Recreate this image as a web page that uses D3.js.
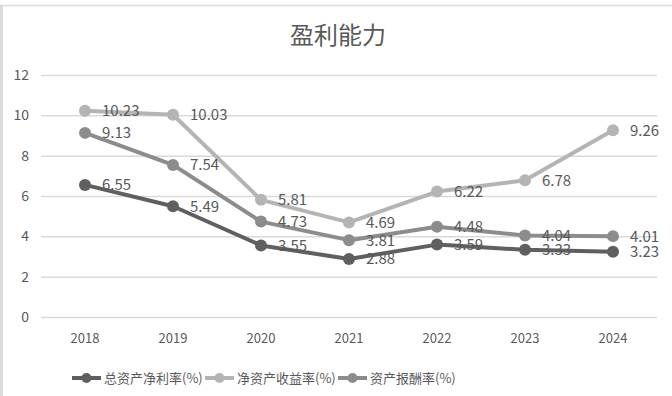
<!DOCTYPE html>
<html>
<head>
<meta charset="utf-8">
<script src="https://cdn.jsdelivr.net/npm/d3@7"></script>
<style>
  html, body { margin: 0; padding: 0; background: #fff; }
  svg { display: block; }
</style>
</head>
<body>
<div id="chart"></div>
<script>
// Data
const years = ['2018', '2019', '2020', '2021', '2022', '2023', '2024'];
const seriesNames = ['总资产净利率(%)', '净资产收益率(%)', '资产报酬率(%)'];
const roa = [6.55, 5.49, 3.55, 2.88, 3.59, 3.33, 3.23];
const roe = [10.23, 10.03, 5.81, 4.69, 6.22, 6.78, 9.26];
const returnOnAssets = [9.13, 7.54, 4.73, 3.81, 4.48, 4.04, 4.01];
const yTicks = [0, 2, 4, 6, 8, 10, 12];
const chartTitle = '盈利能力';

const width = 672;
const height = 396;
const layout = {
  plot: { left: 41, right: 657, top: 75, bottom: 317 },
};
const colors = ['#5f5f5f', '#b4b4b4', '#8c8c8c'];
const textColor = '#595959';
const gridColor = '#d9d9d9';
const font = '"Noto Sans CJK SC", "Noto Sans", sans-serif';

const series = [roa, roe, returnOnAssets].map((values, i) => ({
  name: seriesNames[i],
  color: colors[i],
  values: values.map((v, j) => ({ year: years[j], value: v })),
}));

const svg = d3.select('#chart')
  .append('svg')
  .attr('width', width)
  .attr('height', height)
  .style('font-family', font);

/* Frame */
svg.append('line')
  .attr('x1', 0).attr('x2', width).attr('y1', 5.5).attr('y2', 5.5)
  .attr('stroke', '#dcdcdc').attr('stroke-width', 1.5);
svg.append('rect')
  .attr('x', 0).attr('y', 5).attr('width', 3).attr('height', height - 5)
  .attr('fill', '#dcdcdc');

const x = d3.scaleBand()
  .domain(years)
  .range([layout.plot.left, layout.plot.right]);
const y = d3.scaleLinear()
  .domain([0, 12])
  .range([layout.plot.bottom, layout.plot.top]);
const cx = (d) => x(d) + x.bandwidth() / 2;

/* Title */
svg.append('text')
  .attr('x', 338)
  .attr('y', 44)
  .attr('text-anchor', 'middle')
  .attr('fill', textColor)
  .attr('font-size', 24)
  .text(chartTitle);

/* Grid */
svg.append('g')
  .attr('transform', `translate(${layout.plot.left},0)`)
  .call(d3.axisLeft(y).tickValues(yTicks).tickSize(-(layout.plot.right - layout.plot.left)).tickFormat(''))
  .call((g) => g.select('.domain').remove())
  .selectAll('line')
  .attr('stroke', gridColor)
  .attr('stroke-width', 1.5);

/* Y axis labels */
const yAxis = svg.append('g')
  .attr('transform', `translate(${layout.plot.left - 9},0)`)
  .call(d3.axisLeft(y).tickValues(yTicks).tickSize(0).tickFormat(d3.format('d')));
yAxis.select('.domain').remove();
yAxis.selectAll('text')
  .attr('fill', textColor)
  .attr('font-size', 14)
  .style('font-family', font);

/* X axis labels */
const xAxis = svg.append('g')
  .attr('transform', `translate(0,${layout.plot.bottom + 14})`)
  .call(d3.axisBottom(x).tickSize(0));
xAxis.select('.domain').remove();
xAxis.selectAll('text')
  .attr('fill', textColor)
  .attr('font-size', 13)
  .style('font-family', font);

/* Lines, dots, labels */
const line = d3.line()
  .x((d) => cx(d.year))
  .y((d) => y(d.value));

series.forEach((s) => {
  svg.append('path')
    .datum(s.values)
    .attr('fill', 'none')
    .attr('stroke', s.color)
    .attr('stroke-width', 4)
    .attr('stroke-linejoin', 'round')
    .attr('d', line);
  svg.append('g')
    .selectAll('circle')
    .data(s.values)
    .join('circle')
    .attr('cx', (d) => cx(d.year))
    .attr('cy', (d) => y(d.value))
    .attr('r', 6)
    .attr('fill', s.color);
});

series.forEach((s) => {
  svg.append('g')
    .selectAll('text')
    .data(s.values)
    .join('text')
    .attr('x', (d) => cx(d.year) + 17)
    .attr('y', (d) => y(d.value))
    .attr('dy', '0.36em')
    .attr('fill', textColor)
    .attr('font-size', 15)
    .text((d) => d.value.toFixed(2));
});

/* Legend */
const legendX = [72, 205, 338];
const legend = svg.append('g').attr('transform', 'translate(0,378)');
series.forEach((s, i) => {
  const g = legend.append('g').attr('transform', `translate(${legendX[i]},0)`);
  g.append('line')
    .attr('x1', 0).attr('x2', 29)
    .attr('stroke', s.color).attr('stroke-width', 4);
  g.append('circle')
    .attr('cx', 14.5).attr('r', 5).attr('fill', s.color);
  g.append('text')
    .attr('x', 32)
    .attr('dy', '0.35em')
    .attr('fill', textColor)
    .attr('font-size', 13)
    .text(s.name);
});
</script>
</body>
</html>
